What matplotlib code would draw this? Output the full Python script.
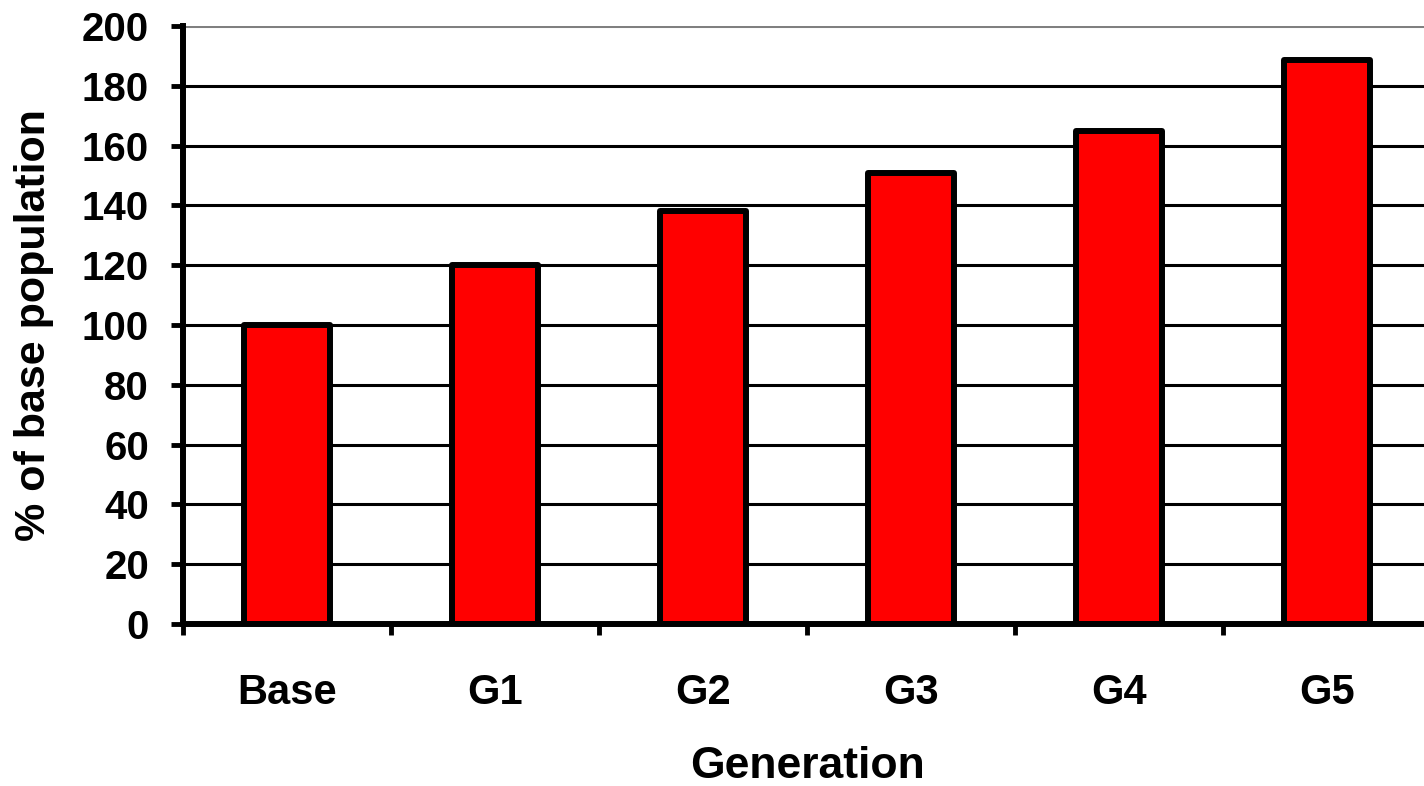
import matplotlib
matplotlib.use("Agg")
import matplotlib.pyplot as plt
import numpy as np

categories = ["Base", "G1", "G2", "G3", "G4", "G5"]
values = [100, 120, 138, 151, 165, 188.5]
y_ticks = [0, 20, 40, 60, 80, 100, 120, 140, 160, 180, 200]

plt.rcParams['font.family'] = ['Liberation Sans', 'DejaVu Sans']
plt.rcParams['font.weight'] = 'bold'

fig = plt.figure(figsize=(14.24, 7.86), dpi=100)
ax = fig.add_axes([183/1424, 162/786, 1248/1424, 598/786])

x = np.arange(len(categories))
ax.bar(x, values, width=0.41, color='#ff0000', edgecolor='black',
       linewidth=4.3, joinstyle='round', zorder=3)

ax.set_xlim(-0.5, len(categories) - 0.5)
ax.set_ylim(0, 200)

for v in y_ticks[1:]:
    ax.axhline(v, color='#808080' if v == 200 else 'black',
               linewidth=2.2, zorder=1)

ax.set_yticks(y_ticks)
ax.set_yticklabels([str(v) for v in y_ticks], fontsize=29, fontweight='bold')
ax.tick_params(axis='y', direction='out', length=8.5, width=3.5, pad=16)

ax.set_xticks(x)
ax.set_xticklabels(categories, fontsize=30, fontweight='bold')
ax.tick_params(axis='x', which='major', length=0, pad=35)
ax.set_xticks(np.arange(-0.5, len(categories) + 0.5, 1), minor=True)
ax.tick_params(axis='x', which='minor', direction='out', length=8, width=3.5)

for s in ['top', 'right']:
    ax.spines[s].set_visible(False)
for s in ['left', 'bottom']:
    ax.spines[s].set_linewidth(4.3)
    ax.spines[s].set_zorder(4)

ax.set_xlabel("Generation", fontsize=32, fontweight='bold', labelpad=24)
ax.set_ylabel("% of base population", fontsize=31, fontweight='bold', labelpad=20)

fig.savefig("out.png", dpi=100)
